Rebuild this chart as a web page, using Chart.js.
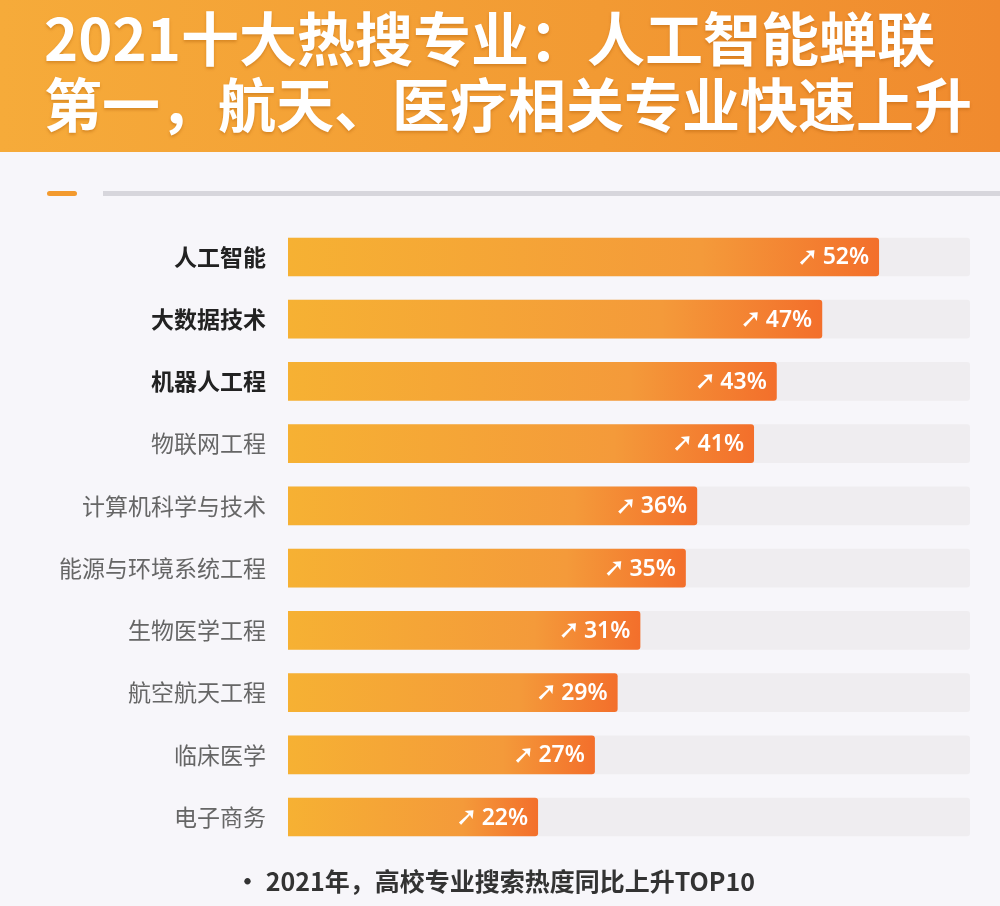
<!DOCTYPE html>
<html>
<head>
<meta charset="utf-8">
<script src="https://cdn.jsdelivr.net/npm/chart.js@4"></script>
<style>
  body { margin: 0; width: 1000px; height: 906px; background: #f7f6fa; position: relative; overflow: hidden;
         font-family: "Noto Sans CJK SC", sans-serif; }
  #head { position: absolute; left: 0; top: 0; width: 1000px; height: 152px;
          background: linear-gradient(90deg, #f6ab3a 0%, #f29a33 60%, #f08a2e 100%); }
  #head div { position: absolute; left: 44px; color: #fff; font-size: 58px; font-weight: 700;
              letter-spacing: 0px; text-shadow: 0 2px 3px rgba(160,80,0,.35); white-space: nowrap; }
  #deco1 { position: absolute; left: 47px; top: 191px; width: 30px; height: 5px; background: #f39a2e; border-radius: 3px; }
  #deco2 { position: absolute; left: 103px; top: 191px; width: 897px; height: 5px; background: #d7d6dc; }
  #foot { position: absolute; left: 0; width: 990px; top: 862px; text-align: center; font-size: 25px;
          font-weight: 700; color: #333; }
  #wrap { position: absolute; left: 0; top: 198px; width: 1000px; height: 678px; }
</style>
</head>
<body>
<div id="head">
  <div style="top:-6px">2021十大热搜专业：人工智能蝉联</div>
  <div style="top:60px">第一，航天、医疗相关专业快速上升</div>
</div>
<div id="deco1"></div><div id="deco2"></div>
<div id="wrap"><canvas id="c"></canvas></div>
<div id="foot">· 2021年，高校专业搜索热度同比上升TOP10</div>
<script>
const categories = ["人工智能", "大数据技术", "机器人工程", "物联网工程", "计算机科学与技术",
  "能源与环境系统工程", "生物医学工程", "航空航天工程", "临床医学", "电子商务"];
const growth = [52, 47, 43, 41, 36, 35, 31, 29, 27, 22];
const trackMax = 60;
const track = categories.map(() => trackMax);

const barLabels = {
  id: "barLabels",
  afterDatasetsDraw(chart) {
    const ctx = chart.ctx;
    const meta = chart.getDatasetMeta(1);
    ctx.save();
    ctx.fillStyle = "#fff";
    ctx.textBaseline = "middle";
    ctx.textAlign = "right";
    meta.data.forEach((bar, i) => {
      const txt = growth[i] + "%";
      ctx.font = "600 23px 'Noto Sans', sans-serif";
      ctx.fillText(txt, bar.x - 10, bar.y + 1);
      const w = ctx.measureText(txt).width;
      ctx.font = "bold 26px 'DejaVu Sans', sans-serif";
      ctx.fillText("➚", bar.x - 14 - w, bar.y + 1);
    });
    ctx.restore();
  }
};

new Chart(document.getElementById("c"), {
  type: "bar",
  data: {
    labels: categories,
    datasets: [
      { data: track, backgroundColor: "#efedf0", borderRadius: 3, order: 2 },
      {
        data: growth, order: 1, borderRadius: 3,
        backgroundColor(c) {
          const a = c.chart.chartArea;
          if (!a || c.raw == null) return "#f5a033";
          const end = c.chart.scales.x.getPixelForValue(c.raw);
          const g = c.chart.ctx.createLinearGradient(a.left, 0, end, 0);
          g.addColorStop(0, "#f6b133");
          g.addColorStop(0.7, "#f49a3a");
          g.addColorStop(1, "#f36f2b");
          return g;
        }
      }
    ]
  },
  options: {
    indexAxis: "y",
    responsive: true,
    maintainAspectRatio: false,
    animation: false,
    layout: { padding: { top: 26, bottom: 10, right: 30 } },
    plugins: { legend: { display: false }, tooltip: { enabled: false } },
    datasets: { bar: { grouped: false, barPercentage: 0.62, categoryPercentage: 1 } },
    scales: {
      x: { min: 0, max: trackMax, display: false },
      y: {
        grid: { display: false }, border: { display: false },
        afterFit(s) { s.width = 288; },
        ticks: {
          padding: 14,
          color: (c) => c.index < 3 ? "#222" : "#666",
          font: (c) => ({ size: 23, weight: c.index < 3 ? "700" : "400", family: "'Noto Sans CJK SC', sans-serif" })
        }
      }
    }
  },
  plugins: [barLabels]
});
</script>
</body>
</html>
